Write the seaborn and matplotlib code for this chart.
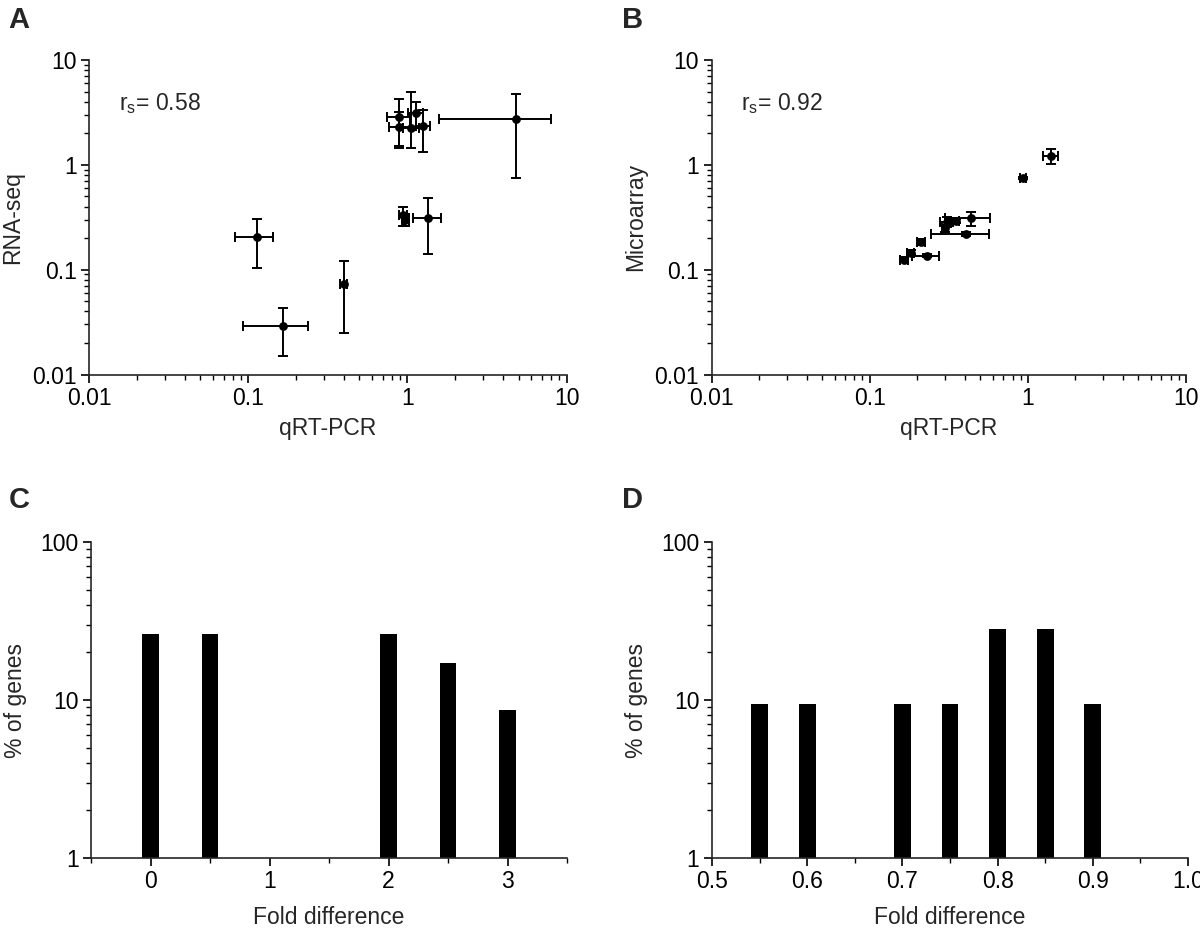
import numpy as np
import matplotlib
matplotlib.use("Agg")
import matplotlib.pyplot as plt
import matplotlib.ticker as mticker
import seaborn as sns

# panel A: qRT-PCR vs RNA-seq
a_qpcr = [4.79, 0.89, 1.13, 0.89, 1.06, 1.26, 0.94, 0.97, 1.35, 0.113, 0.166, 0.40]
a_qpcr_lo = [3.22, 0.15, 0.12, 0.12, 0.12, 0.13, 0.05, 0.05, 0.27, 0.03, 0.073, 0.02]
a_qpcr_hi = [3.17, 0.15, 0.12, 0.15, 0.12, 0.13, 0.05, 0.05, 0.27, 0.03, 0.073, 0.02]
a_rnaseq = [2.75, 2.88, 3.10, 2.31, 2.26, 2.34, 0.33, 0.30, 0.31, 0.203, 0.029, 0.073]
a_rnaseq_lo = [2.00, 1.36, 0.85, 0.85, 0.80, 1.00, 0.07, 0.04, 0.17, 0.10, 0.014, 0.048]
a_rnaseq_hi = [1.99, 1.37, 0.85, 0.85, 2.66, 1.00, 0.07, 0.04, 0.17, 0.10, 0.014, 0.048]

# panel B: qRT-PCR vs microarray
b_qpcr = [1.40, 0.93, 0.44, 0.349, 0.308, 0.30, 0.406, 0.211, 0.182, 0.231, 0.166]
b_qpcr_err = [0.15, 0.04, 0.14, 0.02, 0.03, 0.015, 0.16, 0.012, 0.01, 0.045, 0.01]
b_array = [1.21, 0.753, 0.309, 0.291, 0.287, 0.248, 0.219, 0.185, 0.145, 0.136, 0.125]
b_array_err = [0.20, 0.02, 0.048, 0.015, 0.03, 0.02, 0.01, 0.012, 0.008, 0.005, 0.006]

# panel C / D: fold difference histograms (% of genes)
c_fold = [0, 0.5, 2, 2.5, 3]
c_pct = [26.0, 26.0, 26.0, 17.2, 8.6]
d_fold = [0.55, 0.6, 0.7, 0.75, 0.8, 0.85, 0.9]
d_pct = [9.4, 9.4, 9.4, 9.4, 28.1, 28.1, 9.4]

sns.set_style("ticks")
plt.rcParams["font.family"] = ["Liberation Sans", "DejaVu Sans"]
plt.rcParams["mathtext.fontset"] = "custom"
plt.rcParams["mathtext.rm"] = "Liberation Sans"
plt.rcParams["axes.linewidth"] = 1.2
plt.rcParams["xtick.color"] = "black"
plt.rcParams["ytick.color"] = "black"

FS = 16.5
W, H = 1200, 935
fig = plt.figure(figsize=(12, 9.35), dpi=100)


def box(l, t, r, b):
    return [l / W, 1 - b / H, (r - l) / W, (b - t) / H]


ax_a = fig.add_axes(box(89, 60, 566.5, 374.5))
ax_b = fig.add_axes(box(711.5, 60, 1186, 374.5))
ax_c = fig.add_axes(box(91, 542, 567, 858))
ax_d = fig.add_axes(box(712, 542, 1188, 858))


def style(ax):
    sns.despine(ax=ax)
    ax.tick_params(which="major", length=6, width=1.2, labelsize=FS, direction="out", pad=3)
    ax.tick_params(which="minor", length=3.5, width=1.0, direction="out")


def fmt(v, pos):
    return "{:g}".format(v)


def scatter_panel(ax, x, y, xerr, yerr, ylabel, rs):
    ax.set_xscale("log")
    ax.set_yscale("log")
    ax.errorbar(x, y, xerr=xerr, yerr=yerr, fmt="none", ecolor="black",
                elinewidth=1.4, capsize=3.8, capthick=1.4, zorder=2)
    sns.scatterplot(x=x, y=y, ax=ax, color="black", s=40, edgecolor="black",
                    linewidth=0, zorder=3, legend=False)
    ax.set_xlim(0.01, 10)
    ax.set_ylim(0.01, 10)
    for axis in (ax.xaxis, ax.yaxis):
        axis.set_major_locator(mticker.LogLocator(base=10))
        axis.set_minor_locator(mticker.LogLocator(base=10, subs=np.arange(2, 10)))
        axis.set_major_formatter(mticker.FuncFormatter(fmt))
        axis.set_minor_formatter(mticker.NullFormatter())
    ax.set_xlabel("qRT-PCR", fontsize=FS, labelpad=5)
    ax.set_ylabel(ylabel, fontsize=FS)
    ax.yaxis.set_label_coords(-0.135, 0.5)
    ax.text(0.063, 0.862, r"r$_{\rm s}$= " + rs, transform=ax.transAxes,
            fontsize=FS, va="center", ha="left")
    style(ax)


scatter_panel(ax_a, a_qpcr, a_rnaseq, [a_qpcr_lo, a_qpcr_hi],
              [a_rnaseq_lo, a_rnaseq_hi], "RNA-seq", "0.58")
scatter_panel(ax_b, b_qpcr, b_array, b_qpcr_err, b_array_err, "Microarray", "0.92")


def bar_panel(ax, x, y, width, xlim, major, minor):
    ax.set_yscale("log")
    sns.barplot(x=x, y=y, ax=ax, native_scale=True, color="black",
                width=width, edgecolor="black", linewidth=0, saturation=1)
    ax.set_ylim(1, 100)
    ax.set_xlim(*xlim)
    ax.yaxis.set_major_locator(mticker.LogLocator(base=10))
    ax.yaxis.set_minor_locator(mticker.LogLocator(base=10, subs=np.arange(2, 10)))
    ax.yaxis.set_major_formatter(mticker.FuncFormatter(fmt))
    ax.yaxis.set_minor_formatter(mticker.NullFormatter())
    ax.xaxis.set_major_locator(mticker.MultipleLocator(major))
    ax.xaxis.set_minor_locator(mticker.MultipleLocator(minor))
    ax.set_xlabel("Fold difference", fontsize=FS, labelpad=9)
    ax.set_ylabel("% of genes", fontsize=FS)
    ax.yaxis.set_label_coords(-0.135, 0.5)
    style(ax)


bar_panel(ax_c, c_fold, c_pct, 0.28, (-0.5, 3.5), 1, 0.5)
ax_c.xaxis.set_major_formatter(mticker.FuncFormatter(lambda v, p: "{:g}".format(v)))
bar_panel(ax_d, d_fold, d_pct, 0.35, (0.5, 1.0), 0.1, 0.05)
ax_d.xaxis.set_major_formatter(mticker.FormatStrFormatter("%.1f"))

for lab, x in (("A", 19), ("B", 633), ("C", 19), ("D", 633)):
    y = 20 if lab in "AB" else 500
    fig.text(x / W, 1 - y / H, lab, fontsize=21, fontweight="bold",
             ha="center", va="center")

fig.savefig("out.png", dpi=100)
